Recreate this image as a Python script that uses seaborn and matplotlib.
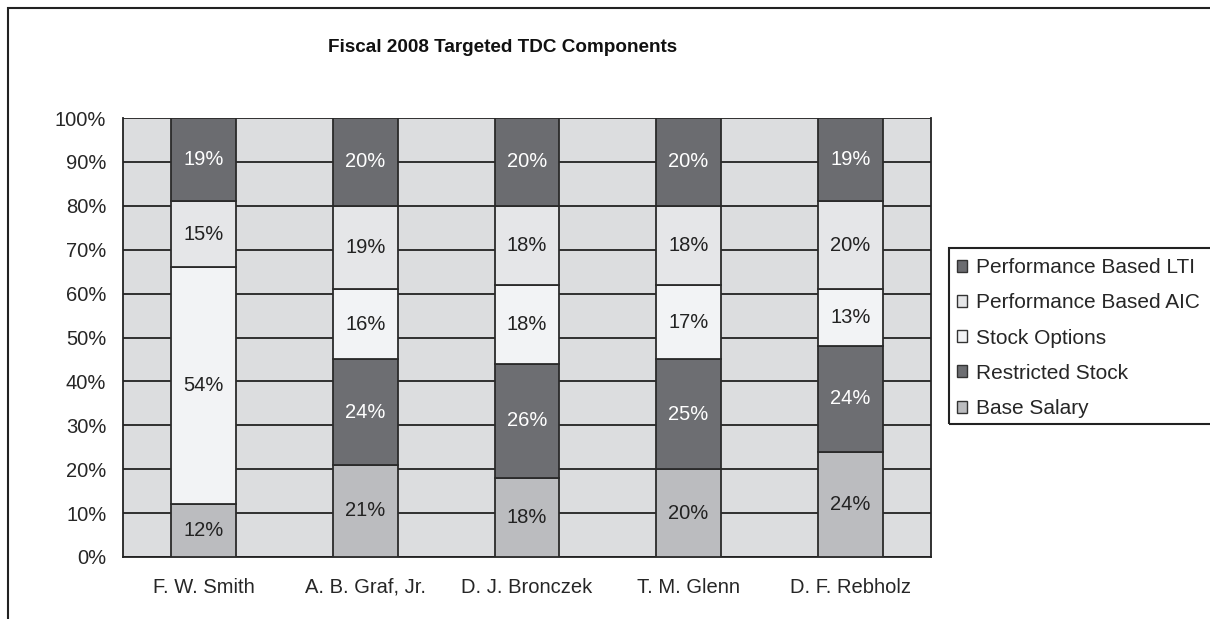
import numpy as np
import pandas as pd
import seaborn as sns
import matplotlib.pyplot as plt
from matplotlib.patches import Rectangle, Patch

# data (percent of targeted TDC)
executives = ["F. W. Smith", "A. B. Graf, Jr.", "D. J. Bronczek", "T. M. Glenn", "D. F. Rebholz"]
base_salary = [12, 21, 18, 20, 24]
restricted_stock = [0, 24, 26, 25, 24]
stock_options = [54, 16, 18, 17, 13]
perf_aic = [15, 19, 18, 18, 20]
perf_lti = [19, 20, 20, 20, 19]
y_ticks = list(range(0, 101, 10))

components = [
    ("Base Salary", base_salary, "#bbbcbf", "#222222"),
    ("Restricted Stock", restricted_stock, "#6d6e72", "white"),
    ("Stock Options", stock_options, "#f2f3f5", "#222222"),
    ("Performance Based AIC", perf_aic, "#e5e6e8", "#222222"),
    ("Performance Based LTI", perf_lti, "#6b6c70", "white"),
]

sns.set_style("white")
plt.rcParams["font.family"] = ["Liberation Sans", "DejaVu Sans"]

fig = plt.figure(figsize=(12.1, 6.19), dpi=100)
ax = fig.add_axes([123 / 1210, 1 - 557 / 619, (931 - 123) / 1210, (557 - 118) / 619])
ax.set_facecolor("#dcdddf")

bottom = np.zeros(len(executives))
for name, vals, color, txt in components:
    df = pd.DataFrame({"exec": executives, "pct": vals})
    sns.barplot(data=df, x="exec", y="pct", bottom=bottom, color=color,
                width=0.4, edgecolor="#2a2a2a", linewidth=1.3, errorbar=None,
                ax=ax, zorder=3, saturation=1)
    for i, v in enumerate(vals):
        if v > 0:
            ax.text(i, bottom[i] + v / 2, f"{v}%", ha="center", va="center",
                    fontsize=14.5, color=txt, zorder=4)
    bottom = bottom + np.array(vals)

ax.set_ylim(0, 100)
ax.set_xlim(-0.5, len(executives) - 0.5)
ax.set_yticks(y_ticks)
ax.set_yticklabels([f"{t}%" for t in y_ticks], fontsize=14.5)
ax.yaxis.grid(True, color="#222222", linewidth=1.3, zorder=0)
ax.set_axisbelow(True)

# ticks at category boundaries, labels at centres
ax.set_xticks(np.arange(-0.5, len(executives), 1.0))
ax.set_xticklabels([])
ax.set_xticks(np.arange(len(executives)), minor=True)
ax.set_xticklabels(executives, minor=True, fontsize=14.5)
ax.tick_params(axis="x", which="major", length=7, width=1.3, direction="out", color="#222222")
ax.tick_params(axis="x", which="minor", length=0, pad=15)
ax.tick_params(axis="y", length=7, width=1.3, direction="out", color="#222222", pad=5)
ax.set_xlabel("")
ax.set_ylabel("")
for s in ax.spines.values():
    s.set_color("#222222")
    s.set_linewidth(1.3)
ax.spines["top"].set_visible(False)

fig.text(503 / 1210, 1 - 47 / 619, "Fiscal 2008 Targeted TDC Components",
         ha="center", va="center", fontsize=13.6, fontweight="bold", color="#111111")

handles = [Patch(facecolor=c, edgecolor="#333333", linewidth=1, label=n)
           for n, _, c, _ in components[::-1]]
fig.legend(handles=handles, loc="upper left", bbox_to_anchor=(957 / 1210, 1 - 258 / 619),
           fontsize=15, frameon=False, handlelength=0.5, handleheight=0.5,
           handletextpad=0.4, labelspacing=0.78, borderpad=0, borderaxespad=0)

# legend box runs off the right edge, as in the source
fig.add_artist(Rectangle((949 / 1210, 1 - 424 / 619), 0.3, (424 - 248) / 619,
                         transform=fig.transFigure, fill=False,
                         edgecolor="#222222", linewidth=1.5))

# outer chart border
fig.add_artist(Rectangle((8 / 1210, -0.1), 1.2, 1.1 - 8 / 619, transform=fig.transFigure,
                         fill=False, edgecolor="#222222", linewidth=1.5))

fig.savefig("out.png", dpi=100)
